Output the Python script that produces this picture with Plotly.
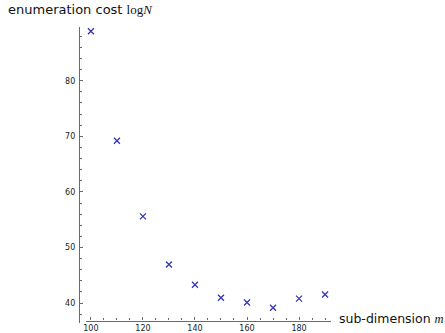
import plotly.graph_objects as go

dims = [100, 110, 120, 130, 140, 150, 160, 170, 180, 190]
log_cost = [88.9, 69.2, 55.6, 46.95, 43.3, 40.95, 40.1, 39.15, 40.8, 41.55]
x_ticks = [100, 120, 140, 160, 180]
y_ticks = [40, 50, 60, 70, 80]

W, H = 445, 333
axis_col = "#6a6a6a"
font_fam = "DejaVu Sans"

fig = go.Figure()
fig.add_trace(go.Scatter(
    x=dims, y=log_cost, mode="markers",
    marker=dict(symbol="x-thin", size=6, line=dict(width=1.3, color="#3535b8"), color="#3535b8"),
))

fig.update_layout(
    width=W, height=H,
    margin=dict(l=0, r=0, t=0, b=0),
    plot_bgcolor="white", paper_bgcolor="white",
    showlegend=False,
    font=dict(family=font_fam, color="#222222"),
    xaxis=dict(
        domain=[84 / W, 330 / W], range=[98.28, 192.2],
        anchor="free", position=(H - 321.5) / H,
        showline=True, linecolor=axis_col, linewidth=1.2,
        showgrid=False, zeroline=False,
        tickmode="array", tickvals=x_ticks,
        ticks="inside", ticklen=3, tickcolor=axis_col, tickwidth=1,
        minor=dict(dtick=5, tick0=100, ticks="inside", ticklen=2, tickcolor=axis_col, showgrid=False),
        tickfont=dict(size=8, family=font_fam, color="#1a1a1a"),
        ticklabelstandoff=0,
    ),
    yaxis=dict(
        domain=[(H - 324) / H, (H - 27) / H], range=[36.41, 89.69],
        anchor="free", position=76.5 / W,
        showline=True, linecolor=axis_col, linewidth=1.2,
        showgrid=False, zeroline=False,
        tickmode="array", tickvals=y_ticks,
        ticks="inside", ticklen=3, tickcolor=axis_col, tickwidth=1,
        minor=dict(dtick=2, tick0=40, ticks="inside", ticklen=2, tickcolor=axis_col, showgrid=False),
        tickfont=dict(size=8, family=font_fam, color="#1a1a1a"),
        ticklabelstandoff=2,
    ),
)

fig.add_annotation(
    text="enumeration cost <span style='font-family:Liberation Serif'>log</span><span style='font-family:Liberation Serif'><i>N</i></span>",
    xref="paper", yref="paper", x=3 / W, y=1 - 10 / H,
    xanchor="left", yanchor="middle", showarrow=False,
    font=dict(size=13, family=font_fam, color="#111111"),
)
fig.add_annotation(
    text="sub-dimension <span style='font-family:Liberation Serif'><i>m</i></span>",
    xref="paper", yref="paper", x=336 / W, y=1 - 319 / H,
    xanchor="left", yanchor="middle", showarrow=False,
    font=dict(size=12.5, family=font_fam, color="#111111"),
)

fig.write_html("out.html")
